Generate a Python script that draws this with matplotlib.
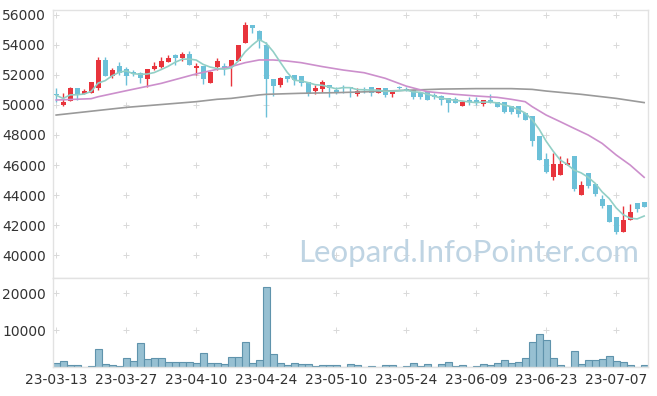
import numpy as np
import pandas as pd
import matplotlib
matplotlib.use('Agg')
import matplotlib.pyplot as plt

# Korean trading days, 23-03-13 .. 23-07-13
holidays = ['2023-05-01', '2023-05-05', '2023-05-29', '2023-06-06']
days = pd.bdate_range('2023-03-13', '2023-07-13')
days = days[~days.isin(pd.to_datetime(holidays))]

opens = [50700, 50000, 50270, 51150, 50710, 50780, 51110, 53000, 51960, 52600,
         52400, 52180, 52110, 51710, 52380, 52560, 52850, 53330, 53110, 53400,
         52490, 52620, 51490, 52560, 52580, 52560, 52960, 54160, 55330, 54960,
         54000, 51730, 51330, 51930, 52000, 51930, 51520, 50930, 51090, 51330,
         51000, 51150, 51200, 50760, 51080, 51180, 50780, 51110, 50750, 51170,
         51060, 51000, 50780, 50930, 50670, 50600, 50470, 50400, 49960, 50330,
         50330, 50070, 50330, 50220, 50180, 49920, 49940, 49440, 49270, 47930,
         46400, 45220, 45330, 46000, 46600, 44000, 45440, 44720, 43720, 43330,
         42560, 41560, 42350, 43470, 43560]
highs = [51150, 50780, 51200, 51150, 51070, 51510, 53180, 53220, 52440, 52840,
         52550, 52330, 52200, 52400, 52890, 53220, 53330, 53400, 53560, 53600,
         52780, 52620, 52270, 53110, 52780, 53000, 54000, 55560, 55330, 55000,
         54200, 51730, 51890, 51930, 52000, 51930, 51520, 51300, 51670, 51330,
         51220, 51330, 51200, 51150, 51200, 51180, 51110, 51110, 51000, 51250,
         51220, 51000, 50780, 50930, 50780, 50670, 50470, 50520, 50290, 50510,
         50510, 50330, 50720, 50220, 50180, 49920, 49940, 49440, 49270, 47930,
         46800, 46830, 46580, 46480, 46600, 44960, 45440, 44720, 44000, 43330,
         42560, 43240, 43370, 43470, 43560]
lows = [50220, 49950, 50270, 50330, 50710, 50780, 51000, 51950, 51780, 52000,
        51330, 51900, 51440, 51180, 52300, 52450, 52850, 52670, 52960, 52670,
        52000, 51380, 51490, 52330, 52000, 51290, 52960, 54160, 54780, 53780,
        49220, 50620, 51180, 51560, 51330, 51280, 50620, 50700, 50850, 50560,
        50740, 50780, 50560, 50600, 50770, 50600, 50780, 50560, 50530, 51050,
        50900, 50380, 50380, 50330, 50380, 50000, 49560, 50160, 49960, 50000,
        50000, 49910, 50150, 49890, 49490, 49400, 49170, 49000, 47300, 46360,
        45440, 45000, 45330, 46000, 44240, 44000, 44440, 43930, 43110, 42220,
        41400, 41560, 42350, 42890, 43180]
closes = [50650, 50220, 51150, 50710, 50930, 51510, 53000, 51960, 52330, 52110,
          51950, 52070, 51780, 52400, 52600, 52950, 53160, 53130, 53400, 52670,
          52620, 51710, 52230, 52930, 52440, 53000, 54000, 55330, 55160, 54330,
          51730, 51270, 51820, 51760, 51670, 51490, 50720, 51130, 51560, 51110,
          50870, 51120, 51110, 50930, 51030, 50780, 51110, 50690, 51000, 51140,
          51030, 50510, 50560, 50360, 50530, 50310, 50160, 50160, 50170, 50200,
          50110, 50330, 50160, 49890, 49500, 49560, 49390, 49000, 47620, 46360,
          45560, 46070, 46070, 46150, 44420, 44670, 44600, 44070, 43280, 42220,
          41560, 42330, 42870, 43060, 43180]
volume = [1260, 1620, 720, 720, 180, 450, 5050, 990, 720, 450,
          2610, 1800, 6670, 2340, 2610, 2610, 1530, 1530, 1530, 1530,
          1260, 3960, 1260, 1260, 990, 2880, 2880, 6940, 1260, 2070,
          21800, 3690, 1260, 720, 1260, 990, 990, 450, 720, 720,
          720, 180, 990, 720, 180, 450, 180, 720, 720, 180,
          450, 1260, 450, 990, 180, 990, 1530, 450, 720, 180,
          450, 990, 720, 1260, 2070, 1260, 1530, 2610, 6940, 9100,
          7480, 2610, 720, 180, 4500, 990, 2070, 2070, 2340, 3150,
          1800, 1530, 720, 180, 720]

# longer moving averages at these day indices
ma20_idx = [0, 5, 6, 10, 15, 20, 23, 25, 27, 29, 31, 33, 35, 38, 41, 44, 47, 50,
            53, 57, 60, 63, 65, 67, 68, 70, 72, 74, 76, 78, 80, 82, 84]
ma20 = [50330, 50420, 50550, 50950, 51440, 52070, 52380, 52560, 52820, 53000,
        53000, 52930, 52820, 52560, 52330, 52150, 51780, 51260, 50890, 50710,
        50600, 50510, 50380, 50220, 49890, 49330, 48890, 48440, 48000, 47440,
        46670, 46000, 45180]
malong_idx = [0, 10, 20, 23, 25, 29, 30, 35, 40, 45, 50, 55, 60, 65, 68, 70,
              75, 80, 84]
ma_long = [49330, 49840, 50220, 50380, 50440, 50670, 50710, 50780, 50820, 50890,
           50980, 51060, 51090, 51090, 51040, 50930, 50710, 50440, 50160]

UP = '#e8343c'
DOWN = '#6cc0d8'
GRIDC = '#d9d9d9'
EDGE = '#e2e2e2'

df = pd.DataFrame({'open': opens, 'high': highs, 'low': lows,
                   'close': closes, 'vol': volume}, index=days)
x = np.arange(len(df))
ma5 = df['close'].rolling(5, min_periods=1).mean()
colors = np.where(df['close'] > df['open'], UP, DOWN)

fig = plt.figure(figsize=(6.57, 3.96), dpi=100)
ax = fig.add_axes([53/657, 1-278/396, 595/657, 268/396])
axv = fig.add_axes([53/657, 1-367.3/396, 595/657, 89.3/396], sharex=ax)

xlim = (-0.45, 84.55)
yticks = np.arange(40000, 56001, 2000)
xticks = np.arange(0, len(df), 10)

# grid drawn as little crosses
gx, gy = np.meshgrid(xticks, yticks)
ax.scatter(gx.ravel(), gy.ravel(), marker='+', s=14, c=GRIDC, lw=0.7, zorder=0)

ax.vlines(x, df['low'], df['high'], colors=colors, lw=1, zorder=2)
body = (df['close'] - df['open']).abs().clip(lower=40)
ax.bar(x, body, bottom=df[['open', 'close']].min(axis=1), width=0.7,
       color=colors, zorder=3)

ax.plot(malong_idx, ma_long, color='#9a9a9a', lw=1.2, zorder=4)
ax.plot(ma20_idx, ma20, color='#cc8fcc', lw=1.2, zorder=4)
ax.plot(x, ma5, color='#92cfc6', lw=1.2, zorder=4)

ax.text(0.985, 0.093, 'Leopard.InfoPointer.com', transform=ax.transAxes,
        ha='right', va='center', fontsize=22.5, color='#bfd4e3',
        family='Lato', zorder=1)

ax.set_xlim(xlim)
ax.set_ylim(38470, 56330)
ax.set_yticks(yticks)
ax.tick_params(axis='x', length=0, labelbottom=False)

# volume panel
vgx, vgy = np.meshgrid(xticks, [10000, 20000])
axv.scatter(vgx.ravel(), vgy.ravel(), marker='+', s=14, c=GRIDC, lw=0.7, zorder=0)
axv.bar(x, df['vol'], width=1.0, color='#97c0d2', edgecolor='#5f93ac', lw=0.8, zorder=2)
axv.set_ylim(0, 24135)
axv.set_yticks([10000, 20000])
axv.set_xticks(xticks)
axv.set_xticklabels(days[::10].strftime('%y-%m-%d'))

for a in (ax, axv):
    for s in a.spines.values():
        s.set_color(EDGE)
        s.set_linewidth(1)
    a.tick_params(axis='y', length=0, pad=5, labelsize=10, labelcolor='#333333')
    a.tick_params(axis='x', length=0, pad=4, labelsize=10, labelcolor='#333333')
    a.set_facecolor('white')

plt.savefig('out.png', dpi=100)
